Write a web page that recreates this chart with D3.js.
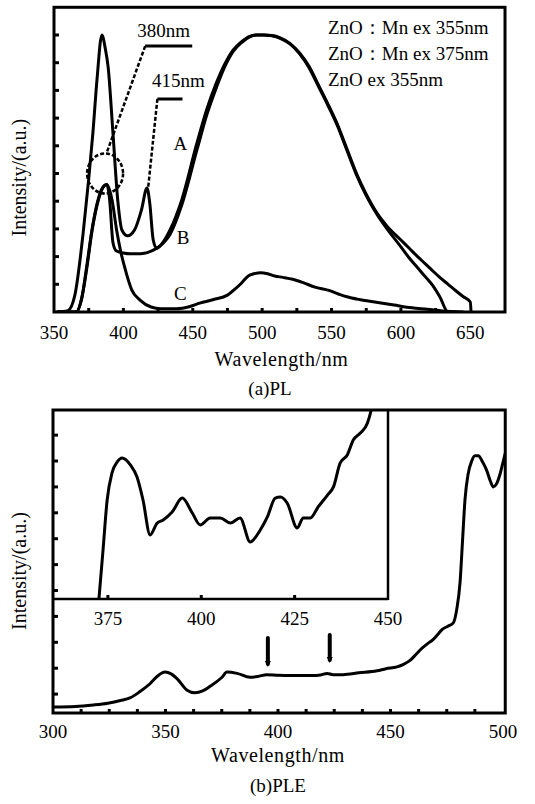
<!DOCTYPE html>
<html><head><meta charset="utf-8">
<script src="https://cdn.jsdelivr.net/npm/d3@7"></script>
<style>
body{margin:0;background:#fff}
svg{display:block}
</style>
</head><body><svg id="c" width="535" height="804" font-family="'Liberation Serif', 'DejaVu Serif', serif"></svg>
<script>
// ---------- Panel (a) PL data ----------
const plTicksX = [350, 400, 450, 500, 550, 600, 650];
const plMinorX = [375, 400, 425, 450, 475, 500, 525, 550, 575, 600, 625];
const plTicksY = [1,2,3,4,5,6,7,8,9,10];
const legendLabels = ["ZnO\uFF1AMn ex 355nm", "ZnO\uFF1AMn ex 375nm", "ZnO ex 355nm"];
const curveLabels = ["A", "B", "C"];

const wlA = [352,360,365,371,375,378,381,384.5,387,389,392.5,396,399,403,408,413,417,419,421.5,424,429,433.6,442,453,460,467,473,479,485,491,496,501,507,513,520,527,534,540,547,554,561,568,575,583,590,600,606,612,618,623,628,634,640,645,650,650.5];
const valA = [0,0.05,0.6,2.85,4.8,6.45,8.4,10,9.5,8.85,6.45,4.0,2.95,2.75,2.96,3.68,4.48,3.93,2.6,2.3,2.55,2.96,4.04,6.1,7.3,8.27,8.95,9.45,9.75,9.95,10,10,9.98,9.9,9.7,9.35,8.85,8.25,7.55,6.8,5.9,5.0,4.25,3.55,3.1,2.6,2.3,2.0,1.72,1.48,1.25,1.0,0.75,0.55,0.36,0];

const wlB = [352,366,370,374,377,381,384,388,390,392.5,395,400,405,410,415,420,424,429,433.6,442,453,460,467,473,479,485,491,496,501,507,513,520,527,534,540,547,554,561,568,575,583,590,600,606,612,618,623,628,634,640];
const valB = [0,0,0.5,1.8,2.85,3.9,4.4,4.6,4.1,2.5,2.2,2.13,2.1,2.1,2.12,2.2,2.3,2.5,2.8,3.85,5.85,7.1,8.1,8.85,9.4,9.72,9.93,10,10,9.97,9.88,9.68,9.32,8.8,8.2,7.5,6.75,5.85,4.95,4.2,3.5,3.0,2.35,1.95,1.6,1.25,0.95,0.55,0,0];

const wlC = [352,366,370,374,377,381,384,388,392,395,398,401,406,412,420,427,438,448,455,465,475,481,485,490,494,499,504,509,515,522,530,538,548,555,561,570,580,595,608,619,630,645];
const valC = [0,0,0.5,1.7,2.8,3.85,4.35,4.6,4.0,3.0,2.2,1.6,0.8,0.43,0.18,0.12,0.12,0.2,0.32,0.45,0.61,0.85,1.04,1.3,1.38,1.42,1.38,1.3,1.25,1.18,1.05,0.9,0.78,0.65,0.55,0.45,0.37,0.25,0.15,0.1,0.04,0];

// ---------- Panel (b) PLE data ----------
const pleTicksX = [300, 350, 400, 450, 500];
const pleMinorX = [312.5,325,337.5,350,362.5,375,387.5,400,412.5,425,437.5,450,462.5,475,487.5];
const pleTicksY = [1,2,3,4,5,6,7,8,9,10,11];
const wlPLE = [300,310,318,324.4,330,334.2,338.7,343.1,346.5,349.8,352.5,355.1,359.6,363.1,366.5,369.8,375.1,377.3,381.8,387.6,391,395,400,405,410,415,419,421.8,424.5,428.9,436,444,448,452.9,455.8,458.7,461.5,464.4,466.5,468.9,471,473,475.5,477.9,479.5,480.9,482,483.1,484.5,486.1,487.5,489,491,492.7,494.5,495.7,497,498.7,500,501];
const valPLE = [0.5,0.52,0.58,0.65,0.75,0.85,1.1,1.4,1.7,1.85,1.78,1.6,1.15,1.05,1.12,1.3,1.65,1.85,1.8,1.65,1.68,1.75,1.73,1.72,1.72,1.72,1.74,1.8,1.75,1.75,1.82,1.9,1.98,2.05,2.15,2.3,2.55,2.8,2.95,3.1,3.3,3.5,3.62,3.75,4.3,5.3,6.9,8.5,9.5,10.0,10.2,10.2,9.95,9.65,9.2,9.0,9.1,9.5,9.95,10.3];

// inset
const insetTicksX = [375, 400, 425, 450];
const wlInset = [372.6,373.7,374.8,376.1,377.5,378.8,381,382.8,384.4,386.3,388.2,389.8,392.2,394.9,397.6,399.7,402.4,405.1,407.8,410.4,413.1,415.8,417.7,419.8,421.2,423.0,425.7,427.3,429.2,431.3,433.8,435.4,437.2,439.1,440.7,442.6,444.5,445.8,446.5];
const valInset = [0,2.6,5.24,6.67,7.25,7.46,7.1,6.45,5.24,3.39,4.02,4.18,4.6,5.34,4.55,3.92,4.29,4.29,4.02,4.29,3.02,3.65,4.34,5.34,5.4,5.08,3.76,4.29,4.29,4.87,5.5,5.93,7.2,7.62,8.41,8.78,9.31,10.26,11];
const arrowWl = [395.5, 423];
const arrowTop = [3.17, 3.28];
const arrowBottom = [2.05, 2.2];

// ---------- drawing ----------
const svg = d3.select("#c");
const FS = 19;

// Panel a scales
const xa = d3.scaleLinear().domain([350, 675]).range([54, 505]);
const ya = d3.scaleLinear().domain([0, 11]).range([312, 7.3]);

const lineA = d3.line().x(d => xa(d[0])).y(d => ya(d[1])).curve(d3.curveMonotoneX);
const pa = svg.append("g");
pa.append("defs").append("clipPath").attr("id","clipA").append("rect")
  .attr("x", xa(350)).attr("y", ya(11)).attr("width", xa(675)-xa(350)).attr("height", ya(0)-ya(11));
const curvesG = pa.append("g").attr("clip-path","url(#clipA)");
[[wlA,valA],[wlB,valB],[wlC,valC]].forEach(([w,v]) => {
  curvesG.append("path").datum(w.map((d,i)=>[d,v[i]]))
    .attr("d", lineA).attr("fill","none").attr("stroke","#000")
    .attr("stroke-width",3).attr("stroke-linejoin","round");
});
// frame
pa.append("rect").attr("x", xa(350)).attr("y", ya(11))
  .attr("width", xa(675)-xa(350)).attr("height", ya(0)-ya(11))
  .attr("fill","none").attr("stroke","#000").attr("stroke-width",3);
// left ticks
pa.selectAll(".ly").data(plTicksY).join("line")
  .attr("x1", xa(350)).attr("x2", xa(350)+5).attr("y1", d=>ya(d)).attr("y2", d=>ya(d))
  .attr("stroke","#000").attr("stroke-width",3);
// bottom minor ticks
pa.selectAll(".bx").data(plMinorX).join("line")
  .attr("x1", d=>xa(d)).attr("x2", d=>xa(d)).attr("y1", ya(0)).attr("y2", ya(0)-4)
  .attr("stroke","#000").attr("stroke-width",3);
// tick labels
pa.selectAll(".tx").data(plTicksX).join("text")
  .attr("x", d=>xa(d)).attr("y", 339).attr("text-anchor","middle")
  .attr("font-size", FS).text(d=>d);
pa.append("text").attr("x", (xa(350)+xa(675))/2 + 2).attr("y", 366).attr("text-anchor","middle")
  .attr("font-size", 20).attr("letter-spacing", 0.6).text("Wavelength/nm");
pa.append("text").attr("x", 270).attr("y", 395).attr("text-anchor","middle")
  .attr("font-size", 19).text("(a)PL");
pa.append("text").attr("transform", `translate(26,${(ya(0)+ya(11))/2+18}) rotate(-90)`)
  .attr("text-anchor","middle").attr("font-size", 20).text("Intensity/(a.u.)");
// legend
pa.selectAll(".lg").data(legendLabels).join("text")
  .attr("x", 328).attr("y", (d,i)=>34 + i*26).attr("font-size", FS).text(d=>d);
// curve letters
const letterPos = [[441,5.85],[443,2.45],[441,0.43]];
pa.selectAll(".cl").data(curveLabels).join("text")
  .attr("x", (d,i)=>xa(letterPos[i][0])).attr("y",(d,i)=>ya(letterPos[i][1]))
  .attr("text-anchor","middle").attr("font-size", FS).text(d=>d);
// annotations
pa.append("text").attr("x", xa(410)).attr("y", ya(9.93)).attr("font-size", FS).text("380nm");
pa.append("line").attr("x1", xa(415.7)).attr("x2", xa(449.6)).attr("y1", ya(9.6)).attr("y2", ya(9.6))
  .attr("stroke","#000").attr("stroke-width",3);
pa.append("line").attr("x1", xa(415.7)).attr("y1", ya(9.6)).attr("x2", xa(388)).attr("y2", ya(5.75))
  .attr("stroke","#000").attr("stroke-width",2.5).attr("stroke-dasharray","4,2");
pa.append("ellipse").attr("cx", xa(386.8)).attr("cy", ya(5.0)).attr("rx", 18).attr("ry", 20)
  .attr("fill","none").attr("stroke","#000").attr("stroke-width",2.5).attr("stroke-dasharray","4,2");
pa.append("text").attr("x", xa(420.7)).attr("y", ya(8.12)).attr("font-size", FS).text("415nm");
pa.append("line").attr("x1", xa(424.5)).attr("x2", xa(442.6)).attr("y1", ya(7.69)).attr("y2", ya(7.69))
  .attr("stroke","#000").attr("stroke-width",3);
pa.append("line").attr("x1", xa(424.5)).attr("y1", ya(7.69)).attr("x2", xa(417.9)).attr("y2", ya(4.51))
  .attr("stroke","#000").attr("stroke-width",2.5).attr("stroke-dasharray","4,2");

// Panel b scales
const xb = d3.scaleLinear().domain([300, 501]).range([53, 505.25]);
const yb = d3.scaleLinear().domain([0.27, 11.97]).range([713, 410]);
const pb = svg.append("g");
pb.append("defs").append("clipPath").attr("id","clipB").append("rect")
  .attr("x", xb(300)).attr("y", yb(11.97)).attr("width", xb(501)-xb(300)).attr("height", yb(0.27)-yb(11.97));
const lineB = d3.line().x(d=>xb(d[0])).y(d=>yb(d[1])).curve(d3.curveMonotoneX);
pb.append("path").attr("clip-path","url(#clipB)").datum(wlPLE.map((d,i)=>[d,valPLE[i]]))
  .attr("d", lineB).attr("fill","none").attr("stroke","#000").attr("stroke-width",3).attr("stroke-linejoin","round");

// inset
const xi = d3.scaleLinear().domain([360.3, 450]).range([53, 388]);
const yi = d3.scaleLinear().domain([0, 10]).range([599, 410]);
pb.append("defs").append("clipPath").attr("id","clipI").append("rect")
  .attr("x", xi(360.3)).attr("y", yi(10)).attr("width", xi(450)-xi(360.3)).attr("height", yi(0)-yi(10));
const lineI = d3.line().x(d=>xi(d[0])).y(d=>yi(d[1])).curve(d3.curveMonotoneX);
pb.append("path").attr("clip-path","url(#clipI)").datum(wlInset.map((d,i)=>[d,valInset[i]]))
  .attr("d", lineI).attr("fill","none").attr("stroke","#000").attr("stroke-width",3).attr("stroke-linejoin","round");
pb.append("line").attr("x1", xi(360.3)).attr("x2", xi(450)).attr("y1", yi(0)).attr("y2", yi(0))
  .attr("stroke","#000").attr("stroke-width",2.5);
pb.append("line").attr("x1", xi(450)).attr("x2", xi(450)).attr("y1", yi(0)+1).attr("y2", yi(10))
  .attr("stroke","#000").attr("stroke-width",2.5);
pb.selectAll(".ix").data(insetTicksX.slice(0,3)).join("line")
  .attr("x1", d=>xi(d)).attr("x2", d=>xi(d)).attr("y1", yi(0)).attr("y2", yi(0)-4)
  .attr("stroke","#000").attr("stroke-width",3);
pb.selectAll(".ixl").data(insetTicksX).join("text")
  .attr("x", d=>xi(d)).attr("y", 625).attr("text-anchor","middle").attr("font-size", FS).text(d=>d);

// frame b
pb.append("rect").attr("x", xb(300)).attr("y", yb(11.97))
  .attr("width", xb(501)-xb(300)).attr("height", yb(0.27)-yb(11.97))
  .attr("fill","none").attr("stroke","#000").attr("stroke-width",3);
pb.selectAll(".lyb").data(pleTicksY).join("line")
  .attr("x1", xb(300)).attr("x2", xb(300)+5).attr("y1", d=>yb(d)).attr("y2", d=>yb(d))
  .attr("stroke","#000").attr("stroke-width",3);
pb.selectAll(".bxb").data(pleMinorX).join("line")
  .attr("x1", d=>xb(d)).attr("x2", d=>xb(d)).attr("y1", yb(0.27)).attr("y2", yb(0.27)-4)
  .attr("stroke","#000").attr("stroke-width",3);
pb.selectAll(".txb").data(pleTicksX).join("text")
  .attr("x", d=>xb(d)).attr("y", 738).attr("text-anchor","middle").attr("font-size", FS).text(d=>d);
pb.append("text").attr("x", 278).attr("y", 762).attr("text-anchor","middle")
  .attr("font-size", 20).attr("letter-spacing", 0.6).text("Wavelength/nm");
pb.append("text").attr("x", 278).attr("y", 792).attr("text-anchor","middle")
  .attr("font-size", 19).text("(b)PLE");
pb.append("text").attr("transform", `translate(26,571) rotate(-90)`)
  .attr("text-anchor","middle").attr("font-size", 20).text("Intensity/(a.u.)");
// arrows
arrowWl.forEach((w,i) => {
  pb.append("line").attr("x1", xb(w)).attr("x2", xb(w)).attr("y1", yb(arrowTop[i])).attr("y2", yb(arrowBottom[i])-3)
    .attr("stroke","#000").attr("stroke-width",4).attr("stroke-linecap","round");
  const xx = xb(w), yy = yb(arrowBottom[i]);
  pb.append("path").attr("d", `M${xx-3},${yy-6}L${xx+3},${yy-6}L${xx},${yy}Z`).attr("fill","#000");
});
</script></body></html>
